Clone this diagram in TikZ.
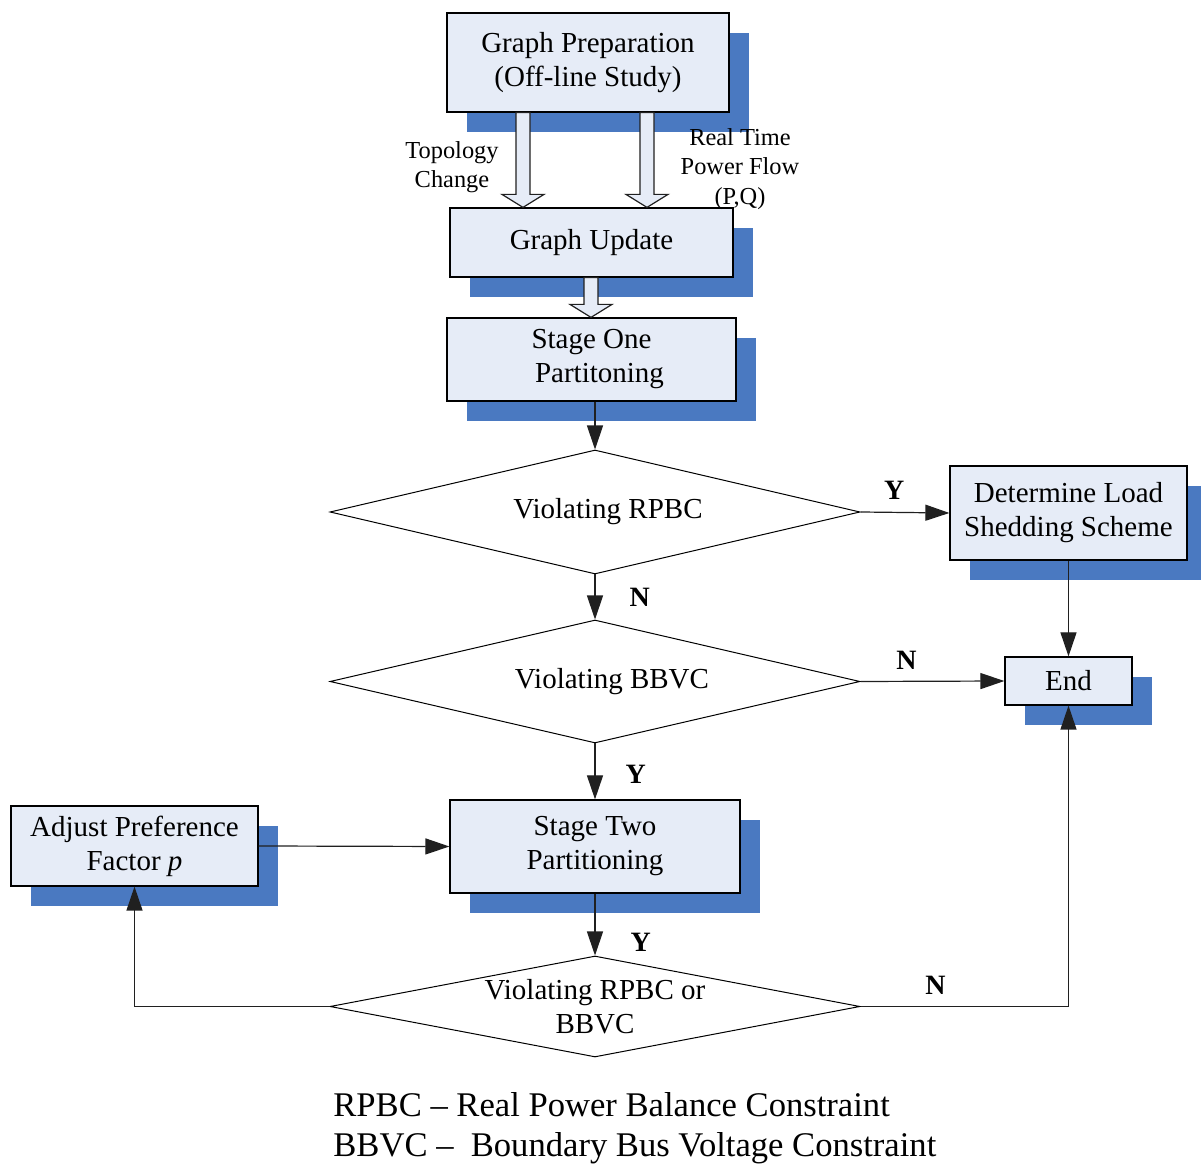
\documentclass[tikz,border=0pt]{standalone}
\usepackage{fontspec}
\setmainfont{Liberation Serif}
\usetikzlibrary{arrows.meta,positioning,shapes.geometric,shadows}
\definecolor{BoxFill}{HTML}{E6ECF7}
\definecolor{Shade}{HTML}{4A79C1}
\definecolor{Wire}{HTML}{202020}
\tikzset{
  box/.style={draw=black, line width=0.6pt, fill=BoxFill, align=center,
              inner sep=1mm, font=\fontsize{14.5}{17}\selectfont,
              drop shadow={shadow xshift=10pt, shadow yshift=-10.25pt, fill=Shade, opacity=1}},
  check/.style={diamond, draw=black, line width=0.5pt, fill=white, align=center,
                inner sep=0pt, minimum width=265pt, font=\fontsize{14.5}{17}\selectfont},
  arrow/.style={-{Triangle[length=12pt,width=8pt]}, line width=0.6pt, draw=Wire},
  hollow/.style={draw=Wire, line width=0.6pt, fill=BoxFill},
  yn/.style={font=\fontsize{14}{16}\selectfont\bfseries, inner sep=1pt},
  tag/.style={font=\fontsize{12.2}{14.7}\selectfont, align=center, inner sep=0pt},
}
% block arrow: x position, from node, to node
\newcommand{\hollowarrow}[3]{%
  \coordinate (hahead) at ([yshift=6.5pt]#3.north);
  \draw[hollow] (#1-7,0 |- #2.south) -- (#1-7,0 |- hahead)
    -- ++(-14,0) -- (#1,0 |- #3.north) -- ++(21,-13) -- ++(-14,0)
    -- (#1+7,0 |- #2.south) -- cycle;}

\begin{document}
\begin{tikzpicture}[x=0.5pt, y=-0.5pt]
  \useasboundingbox (0,0) rectangle (1201,1165);
  \node[box, minimum width=141pt, minimum height=49.5pt] (prep) at (588,62.5) {Graph Preparation\\(Off-line Study)};
  \node[box, minimum width=141.5pt, minimum height=34.5pt] (update) at (591.5,242.5) {Graph Update};
  \node[box, minimum width=144.5pt, minimum height=41.5pt] (one) at (591.5,359.5) {Stage One\\\hspace*{8pt}Partitoning};
  \node[check, minimum height=62pt, shape aspect=4.3] (rpbc) at (595,512) {\hspace*{13pt}Violating RPBC};
  \node[box, minimum width=118.5pt, minimum height=47pt] (shed) at (1068.5,513) {Determine Load\\Shedding Scheme};
  \node[check, minimum height=61.5pt, shape aspect=4.3] (bbvc) at (595,681.5) {\hspace*{17pt}Violating BBVC};
  \node[box, minimum width=63.5pt, minimum height=24pt] (end) at (1068.5,681) {End};
  \node[box, minimum width=145pt, minimum height=46.5pt] (two) at (595,846.5) {Stage Two\\Partitioning};
  \node[box, minimum width=123.5pt, minimum height=40pt] (adjust) at (134.5,846) {Adjust Preference\\Factor \textit{p}};
  \node[check, minimum height=50.5pt, shape aspect=5.25] (both) at (595,1006.5) {Violating RPBC or\\BBVC};

  \hollowarrow{523}{prep}{update}
  \hollowarrow{647}{prep}{update}
  \hollowarrow{591}{update}{one}
  \node[tag] (topo) at (452,167) {Topology\\Change};
  \node[tag] (flow) at (740,169) {Real Time\\Power Flow\\(P,Q)};

  \draw[arrow] (rpbc.north |- one.south) -- (rpbc.north);
  \draw[arrow] (rpbc.east) -- node[yn, above=5pt, pos=0.38] {Y} (shed.west);
  \draw[arrow] (rpbc.south) -- node[yn, right=16pt] {N} (bbvc.north);
  \draw[arrow] (shed.south) -- (end.north);
  \draw[arrow] (bbvc.east) -- node[yn, above=4.5pt, pos=0.32] {N} (end.west);
  \draw[arrow] (bbvc.south) -- node[yn, right=14pt, pos=0.55] {Y} (two.north);
  \draw[arrow] (adjust.east) -- (two.west);
  \draw[arrow] (two.south) -- node[yn, right=16.5pt, pos=0.78] {Y} (both.north);
  \draw[arrow] (both.west) -| (adjust.south);
  \draw[arrow] (both.east) -| node[yn, above=4.5pt, pos=0.18] {N} (end.south);

  \node[anchor=base west, align=left, inner sep=0pt, font=\fontsize{17.3}{20.5}\selectfont] (legend) at (333,1157)
    {RPBC -- Real Power Balance Constraint\\BBVC --\ \ Boundary Bus Voltage Constraint};
\end{tikzpicture}
\end{document}
